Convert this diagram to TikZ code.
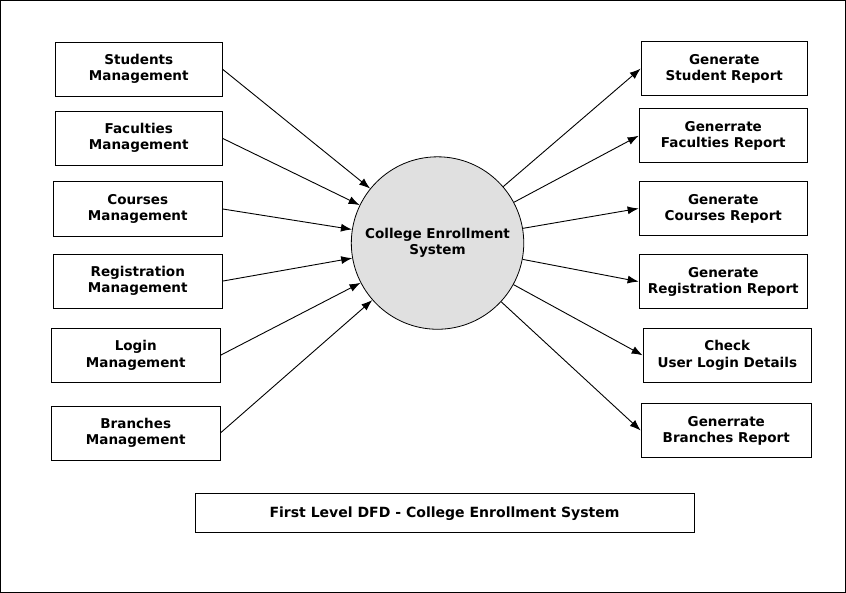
\documentclass[tikz,border=0pt]{standalone}
\usepackage{fontspec}
\setmainfont{DejaVu Sans}
\usetikzlibrary{arrows.meta}
\begin{document}
\begin{tikzpicture}[x=1pt,y=-1pt,
 bx/.style={draw,thick,minimum width=166pt,minimum height=54pt,align=center,font=\fontsize{13.5}{16}\selectfont\bfseries},
 ar/.style={-{Latex[length=11pt,width=8pt]},line width=0.9pt}]
\draw[thick,fill=white] (1,1) rectangle (844,591);
\node[bx] (s1) at (139,69.5) {Students\\Management};
\node[bx] (s2) at (139,138.5) {Faculties\\Management};
\node[bx,minimum width=168pt] (s3) at (138,209) {Courses\\Management};
\node[bx,minimum width=168pt] (s4) at (138,281) {Registration\\Management};
\node[bx,minimum width=168pt] (s5) at (136,355) {Login\\Management};
\node[bx,minimum width=168pt] (s6) at (136,432.5) {Branches\\Management};
\node[bx] (r1) at (723,69) {Generate\\Student Report};
\node[bx,minimum width=168pt] (r2) at (722,136) {Generrate\\Faculties Report};
\node[bx,minimum width=168pt] (r3) at (722,208.5) {Generate\\Courses Report};
\node[bx,minimum width=168pt] (r4) at (722,281.5) {Generate\\Registration Report};
\node[bx,minimum width=168pt] (r5) at (726,355) {Check\\User Login Details};
\node[bx,minimum width=170pt] (r6) at (725,430) {Generrate\\Branches Report};
\node[draw,thick,circle,fill=black!12,minimum size=172pt,align=center,font=\fontsize{13.5}{16}\selectfont\bfseries] (c) at (437,243) {College Enrollment\\System};
\node[draw,thick,minimum width=498pt,minimum height=39pt,font=\fontsize{14}{16}\selectfont\bfseries] (t) at (444,512.5) {First Level DFD - College Enrollment System};
\foreach \i in {1,...,6}{\draw[ar] (s\i.east) -- (c); \draw[ar] (c) -- (r\i.west);}
\end{tikzpicture}
\end{document}
